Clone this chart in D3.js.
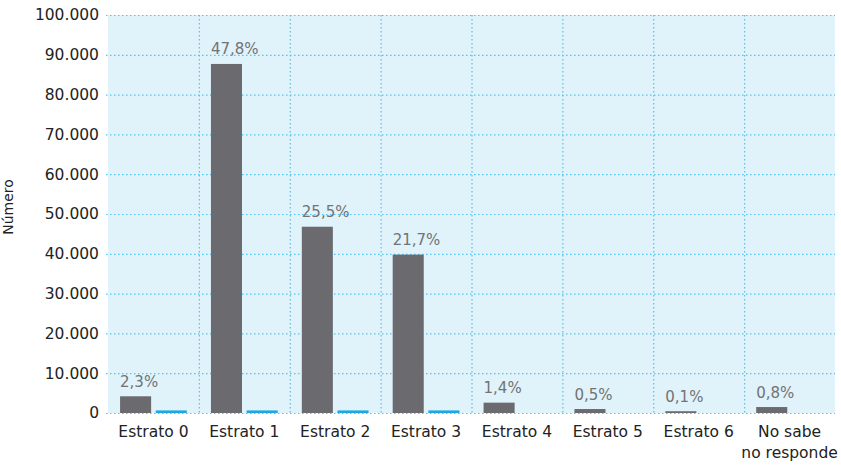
<!DOCTYPE html>
<html>
<head>
<meta charset="utf-8">
<script src="https://cdn.jsdelivr.net/npm/d3@7"></script>
<style>
  html, body { margin: 0; padding: 0; background: #ffffff; }
  svg { display: block; }
  text { font-family: "DejaVu Sans", sans-serif; }
</style>
</head>
<body>
<svg id="chart" width="841" height="466"></svg>
<script>
// Categories (multi-line labels split on "\n")
const categories = ["Estrato 0", "Estrato 1", "Estrato 2", "Estrato 3", "Estrato 4", "Estrato 5", "Estrato 6", "No sabe\nno responde"];
// Number of people per stratum
const totalValues = [4200, 87700, 46800, 39800, 2600, 1000, 450, 1500];
// Secondary (blue) series
const secondValues = [650, 650, 650, 650, 0, 0, 0, 0];
// Share labels shown above the grey bars
const shareLabels = ["2,3%", "47,8%", "25,5%", "21,7%", "1,4%", "0,5%", "0,1%", "0,8%"];
// Y axis ticks
const yTicks = [0, 10000, 20000, 30000, 40000, 50000, 60000, 70000, 80000, 90000, 100000];

const svg = d3.select("#chart");
const plotLeft = 108, plotRight = 835, plotTop = 15, plotBottom = 413;

const x = d3.scaleBand().domain(categories).range([plotLeft, plotRight]).padding(0);
const xInner = d3.scaleBand().domain(["total", "second"]).range([0, x.bandwidth()])
  .paddingInner(0.13).paddingOuter(0.338);
const y = d3.scaleLinear().domain([0, 100000]).range([plotBottom, plotTop]);

const fmt = v => d3.format(",")(v).replace(/,/g, ".");

// plot background
svg.append("rect")
  .attr("x", plotLeft).attr("y", plotTop)
  .attr("width", plotRight - plotLeft).attr("height", plotBottom - plotTop)
  .attr("fill", "#e0f2fa");

// horizontal grid
svg.append("g").selectAll("line").data(yTicks).join("line")
  .attr("x1", plotLeft - 2).attr("x2", plotRight)
  .attr("y1", d => y(d) + 0.5).attr("y2", d => y(d) + 0.5)
  .attr("stroke", "#55c3ee").attr("stroke-width", 1.2)
  .attr("stroke-dasharray", "1.5,2.5");

// vertical separators between categories
svg.append("g").selectAll("line").data(categories.slice(1)).join("line")
  .attr("x1", d => x(d) + 0.5).attr("x2", d => x(d) + 0.5)
  .attr("y1", plotTop).attr("y2", plotBottom)
  .attr("stroke", "#55c3ee").attr("stroke-width", 1.2)
  .attr("stroke-dasharray", "1.5,2.5");

// y axis labels
const yAxis = d3.axisLeft(y).tickValues(yTicks).tickFormat(fmt).tickSize(0).tickPadding(9);
const gy = svg.append("g").attr("transform", `translate(${plotLeft},0)`).call(yAxis);
gy.select(".domain").remove();
gy.selectAll("text").attr("font-size", 15.5).attr("fill", "#222")
  .attr("font-family", "'DejaVu Sans', sans-serif");

// y axis title
svg.append("text")
  .attr("transform", `translate(13,207) rotate(-90)`)
  .attr("text-anchor", "middle")
  .attr("font-size", 14).attr("fill", "#222")
  .text("Número");

// grey bars
svg.append("g").selectAll("rect").data(totalValues).join("rect")
  .attr("x", (d, i) => x(categories[i]) + xInner("total"))
  .attr("y", d => y(d))
  .attr("width", xInner.bandwidth())
  .attr("height", d => plotBottom - y(d))
  .attr("fill", "#6b6b6f");

// blue bars
svg.append("g").selectAll("rect").data(secondValues).join("rect")
  .attr("x", (d, i) => x(categories[i]) + xInner("second"))
  .attr("y", d => y(d))
  .attr("width", xInner.bandwidth())
  .attr("height", d => plotBottom - y(d))
  .attr("fill", "#1ba9e1");

// share labels
svg.append("g").selectAll("text").data(totalValues).join("text")
  .attr("x", (d, i) => x(categories[i]) + xInner("total"))
  .attr("y", d => y(d) - 9.5)
  .attr("font-family", "'Liberation Sans', Arial, sans-serif")
  .attr("font-size", 15).attr("fill", "#737373")
  .text((d, i) => shareLabels[i]);

// x axis labels
const xl = svg.append("g").selectAll("text").data(categories).join("text")
  .attr("x", d => x(d) + x.bandwidth() / 2)
  .attr("y", 437)
  .attr("text-anchor", "middle")
  .attr("font-size", 15.5).attr("fill", "#222");
xl.each(function(d) {
  const lines = d.split("\n");
  const t = d3.select(this);
  lines.forEach((ln, k) => {
    t.append("tspan").attr("x", x(d) + x.bandwidth() / 2).attr("dy", k === 0 ? 0 : 21).text(ln);
  });
});
</script>
</body>
</html>
